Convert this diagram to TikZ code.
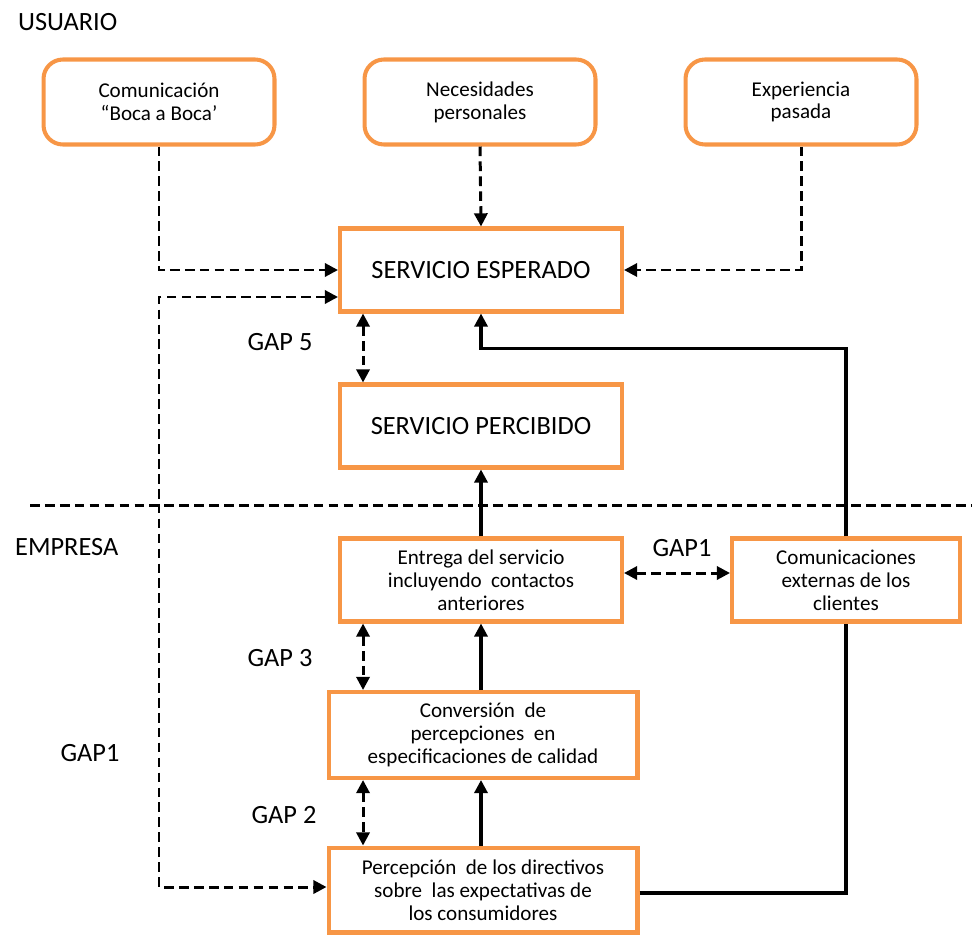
\documentclass[tikz,border=0pt]{standalone}
\usepackage{fontspec}
\setmainfont{Carlito}
\usetikzlibrary{arrows.meta}
\usetikzlibrary{positioning}
\definecolor{naranja}{RGB}{247,150,70}
\tikzstyle{fuente} = [rectangle, rounded corners=11pt, draw=naranja, line width=2.3pt, minimum width=4.62cm, minimum height=1.7cm, text centered, align=center, font=\fontsize{12}{13}\selectfont]
\tikzstyle{servicio} = [rectangle, draw=naranja, line width=2.3pt, minimum width=5.64cm, minimum height=1.66cm, text centered, font=\fontsize{15}{17}\selectfont]
\tikzstyle{proceso} = [rectangle, draw=naranja, line width=2.3pt, minimum width=5.64cm, minimum height=1.66cm, text centered, align=center, font=\fontsize{12}{13}\selectfont]
\tikzstyle{brecha} = [line width=1.7pt, dash pattern=on 5.5pt off 3pt, {Triangle[length=7.5pt,width=7.5pt]}-{Triangle[length=7.5pt,width=7.5pt]}]
\tikzstyle{brechauna} = [line width=1.7pt, dash pattern=on 5.5pt off 3pt, -{Triangle[length=7.5pt,width=7.5pt]}]
\tikzstyle{flujo} = [line width=1.8pt, -{Triangle[length=7.5pt,width=7.5pt]}]
\tikzstyle{rotulo} = [font=\fontsize{15}{17}\selectfont]

\begin{document}
\begin{tikzpicture}[x=0.02cm, y=-0.02cm]
\useasboundingbox (0,0) rectangle (972,936);

% usuario
\node (usuario) [rotulo, anchor=west] at (12,22) {USUARIO};
\node (boca) [fuente] at (159,102) {Comunicación\\“Boca a Boca’};
\node (necesid) [fuente] at (480,102) {Necesidades\\personales};
\node (exper) [fuente] at (801,102) {Experiencia\\pasada};
\node (esperado) [servicio] at (481,270) {SERVICIO ESPERADO};
\node (percibido) [servicio] at (481,426) {SERVICIO PERCIBIDO};

\draw [line width=1.7pt, dash pattern=on 5.5pt off 3pt] (30,505) -- (972,505);

% empresa
\node (empresa) [rotulo, anchor=west] at (9,547) {EMPRESA};
\node (entrega) [proceso] at (481,580) {Entrega del servicio\\incluyendo\ \ contactos\\anteriores};
\node (comext) [proceso, minimum width=4.56cm] at (846,580) {Comunicaciones\\externas de los\\clientes};
\node (conversion) [proceso, minimum width=6.18cm, minimum height=1.72cm] at (483,735) {Conversión\ \ de\\percepciones\ \ en\\especificaciones de calidad};
\node (percepcion) [proceso, minimum width=6.18cm, minimum height=1.7cm] at (483,890) {Percepción\ \ de los directivos\\sobre\ \ las expectativas de\\los consumidores};

\node (gap5) [rotulo] at (280,342) {GAP 5};
\node (gap3) [rotulo] at (280,658) {GAP 3};
\node (gap2) [rotulo] at (284,815) {GAP 2};
\node (gap1a) [rotulo] at (682,548) {GAP1};
\node (gap1b) [rotulo] at (90,753) {GAP1};

% conectores
\draw [brechauna] (boca.south) |- (esperado.west);
\draw [brechauna] (necesid.south) -- (esperado.north);
\draw [brechauna] (exper.south) |- (esperado.east);
\draw [brecha] ([yshift=-0.54cm]esperado.west) -| ([yshift=0.06cm]percepcion.west -| boca.south) -- ([yshift=0.06cm]percepcion.west);
\draw [brecha] ([xshift=-2.36cm]esperado.south) -- ([xshift=-2.36cm]percibido.north);
\draw [brecha] ([xshift=-2.36cm]entrega.south) -- ([xshift=-2.36cm]conversion.north -| entrega.south);
\draw [brecha] ([xshift=-2.4cm]conversion.south) -- ([xshift=-2.4cm]percepcion.north);
\draw [brecha] ([yshift=0.14cm]entrega.east) -- ([yshift=0.14cm]comext.west);
\draw [flujo] (entrega.north) -- (percibido.south);
\draw [flujo] (conversion.north -| entrega.south) -- (entrega.south);
\draw [flujo] (percepcion.north -| entrega.south) -- (conversion.south -| entrega.south);
\draw [flujo] (comext.north) |- ([yshift=-0.7cm]esperado.south) -- (esperado.south);
\draw [line width=1.8pt] ([yshift=-0.06cm]percepcion.east) -| (comext.south);

\end{tikzpicture}
\end{document}
